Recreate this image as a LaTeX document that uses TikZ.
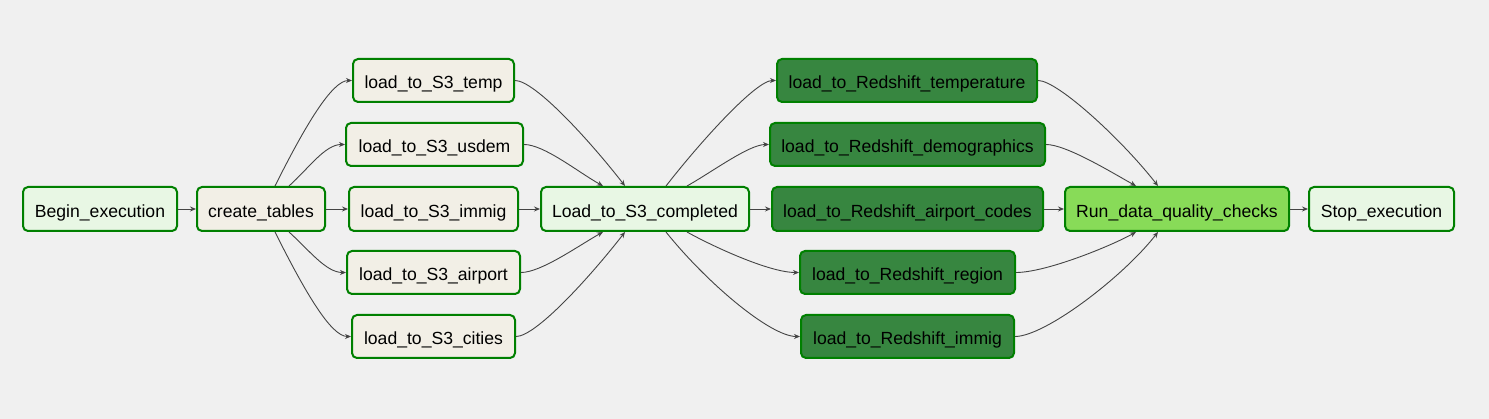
\documentclass[tikz,border=0pt]{standalone}
\usepackage{fontspec}
\setmainfont{Liberation Sans}
\usetikzlibrary{arrows.meta}
\definecolor{bg}{HTML}{F0F0F0}
\definecolor{bord}{HTML}{008000}
\definecolor{lightg}{HTML}{E8F7E4}
\definecolor{beige}{HTML}{F2EFE6}
\definecolor{darkg}{HTML}{378640}
\definecolor{rung}{HTML}{88DB58}
\definecolor{edgec}{HTML}{444444}
\tikzset{
  task/.style={draw=bord, line width=2pt, rounded corners=5pt, inner sep=0pt,
    minimum height=44pt, text height=16.4pt, text depth=0pt,
    font=\fontsize{17.6}{20}\selectfont, text=black},
  light/.style={task, fill=lightg},
  sthree/.style={task, fill=beige},
  red/.style={task, fill=darkg},
  runbox/.style={task, fill=rung},
  edge/.style={draw=edgec, line width=0.9pt, -{Stealth[length=6pt,width=5pt]}},
}
\begin{document}
\begin{tikzpicture}[x=1pt,y=-1pt]
\useasboundingbox[fill=bg] (0,0) rectangle (1489,419);
% nodes
\node[light, minimum width=154pt] (begin) at (100,209) {Begin\_execution};
\node[sthree, minimum width=128pt] (ct) at (261,209) {create\_tables};
\node[sthree, minimum width=161pt, minimum height=43pt] (temp) at (433.5,80.5) {load\_to\_S3\_temp};
\node[sthree, minimum width=177pt, minimum height=43pt] (usdem) at (434.5,144.5) {load\_to\_S3\_usdem};
\node[sthree, minimum width=169pt] (immig) at (433.5,209) {load\_to\_S3\_immig};
\node[sthree, minimum width=173pt, minimum height=43pt] (airport) at (433.5,272.5) {load\_to\_S3\_airport};
\node[sthree, minimum width=163pt, minimum height=43pt] (cities) at (433.5,336.5) {load\_to\_S3\_cities};
\node[light, minimum width=208pt] (done) at (645,209) {Load\_to\_S3\_completed};
\node[red, minimum width=260pt, minimum height=43pt] (rtemp) at (907,80.5) {load\_to\_Redshift\_temperature};
\node[red, minimum width=275pt, minimum height=43pt] (rdem) at (907.5,144.5) {load\_to\_Redshift\_demographics};
\node[red, minimum width=271pt] (rair) at (907.5,209) {load\_to\_Redshift\_airport\_codes};
\node[red, minimum width=215pt, minimum height=43pt] (rreg) at (907.5,272.5) {load\_to\_Redshift\_region};
\node[red, minimum width=213pt, minimum height=43pt] (rimm) at (907.5,336.5) {load\_to\_Redshift\_immig};
\node[runbox, minimum width=224pt] (run) at (1177,209) {Run\_data\_quality\_checks};
\node[light, minimum width=145pt] (stop) at (1381.5,209) {Stop\_execution};
% straight edges
\draw[edge] (begin.east) -- (ct.west);
\draw[edge] (ct.east) -- (immig.west);
\draw[edge] (immig.east) -- (done.west);
\draw[edge] (done.east) -- (rair.west);
\draw[edge] (rair.east) -- (run.west);
\draw[edge] (run.east) -- (stop.west);
% fan out from create_tables
\draw[edge] ([xshift=14pt]ct.north) .. controls +(30,-60) and +(-20,0) .. (temp.west);
\draw[edge] ([xshift=28pt]ct.north) .. controls +(20,-18) and +(-20,0) .. (usdem.west);
\draw[edge] ([xshift=28pt]ct.south) .. controls +(20,18) and +(-20,0) .. (airport.west);
\draw[edge] ([xshift=14pt]ct.south) .. controls +(30,60) and +(-20,0) .. (cities.west);
% fan in to Load_to_S3_completed
\draw[edge] (temp.east) .. controls +(20,0) and +(-35,-45) .. ([xshift=-20pt]done.north);
\draw[edge] (usdem.east) .. controls +(20,0) and +(-25,-14) .. ([xshift=-42pt]done.north);
\draw[edge] (airport.east) .. controls +(20,0) and +(-25,14) .. ([xshift=-42pt]done.south);
\draw[edge] (cities.east) .. controls +(20,0) and +(-35,45) .. ([xshift=-20pt]done.south);
% fan out from Load_to_S3_completed
\draw[edge] ([xshift=21pt]done.north) .. controls +(35,-45) and +(-20,0) .. (rtemp.west);
\draw[edge] ([xshift=42pt]done.north) .. controls +(25,-14) and +(-20,0) .. (rdem.west);
\draw[edge] ([xshift=42pt]done.south) .. controls +(25,14) and +(-30,0) .. (rreg.west);
\draw[edge] ([xshift=21pt]done.south) .. controls +(40,50) and +(-30,0) .. (rimm.west);
% fan in to Run_data_quality_checks
\draw[edge] (rtemp.east) .. controls +(20,0) and +(-35,-45) .. ([xshift=-19pt]run.north);
\draw[edge] (rdem.east) .. controls +(20,0) and +(-25,-14) .. ([xshift=-41pt]run.north);
\draw[edge] (rreg.east) .. controls +(30,0) and +(-25,14) .. ([xshift=-41pt]run.south);
\draw[edge] (rimm.east) .. controls +(30,0) and +(-35,45) .. ([xshift=-19pt]run.south);
\end{tikzpicture}
\end{document}
